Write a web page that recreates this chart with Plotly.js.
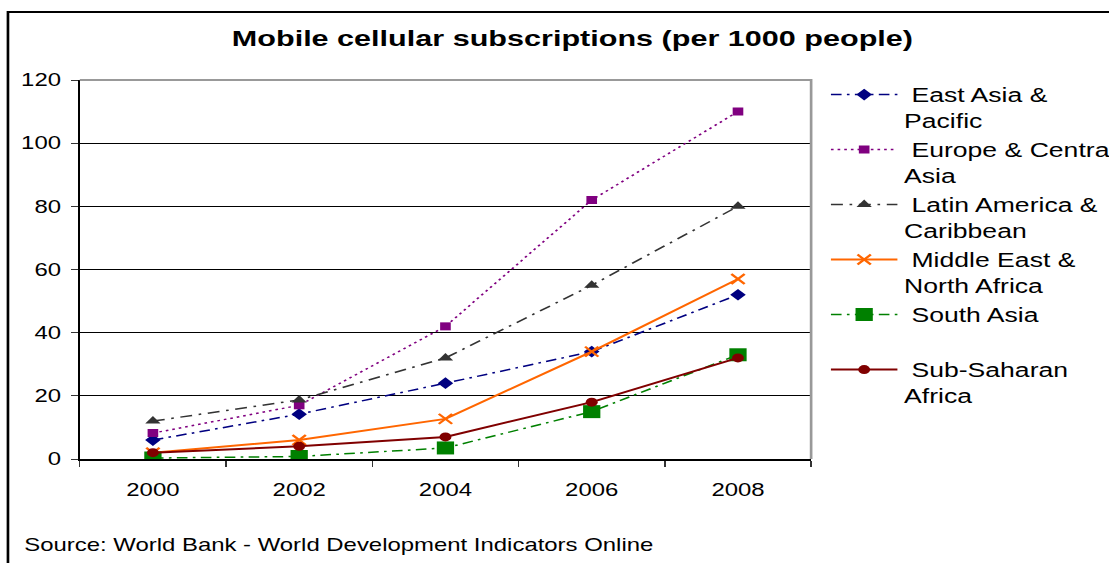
<!DOCTYPE html>
<html><head><meta charset="utf-8">
<script src="https://cdn.plot.ly/plotly-3.0.1.min.js"></script>
<style>
html,body{margin:0;padding:0;overflow:hidden;background:#fff;width:1109px;height:563px}
#wrap{width:1109px;height:563px;overflow:hidden;position:relative}
#chart{width:834px;height:563px;transform:scaleX(1.3297);transform-origin:0 0}
</style></head><body><div id="wrap"><div id="chart"></div></div>
<script>
const years = ['2000', '2002', '2004', '2006', '2008'];
const seriesNames = ['\u00a0East Asia &<br>Pacific', '\u00a0Europe & Central<br>Asia', '\u00a0Latin America &<br>Caribbean', '\u00a0Middle East &<br>North Africa', '\u00a0South Asia<br> ', '\u00a0Sub-Saharan<br>Africa'];
const eastAsiaPacific = [6, 14.2, 24, 34, 52];
const europeCentralAsia = [8.2, 17, 42, 82, 110];
const latinAmericaCaribbean = [12, 18.7, 32, 55, 80];
const middleEastNorthAfrica = [2, 6, 12.7, 34, 57];
const southAsia = [0.3, 0.8, 3.5, 15, 33];
const subSaharanAfrica = [2, 4, 7, 18, 32];
const yTicks = [0, 20, 40, 60, 80, 100, 120];
const sourceText = 'Source: World Bank - World Development Indicators Online';
const titleText = 'Mobile cellular subscriptions (per 1000 people)';

const F = 'Liberation Sans, Arial, sans-serif';
const mk = (name, y, color, dash, width, symbol, size, extra) => Object.assign({
  type: 'scatter', mode: 'lines+markers', x: years, y: y, name: name,
  line: {color: color, dash: dash, width: width},
  marker: {symbol: symbol, size: size, color: color, line: {width: 0}}
}, extra || {});

const data = [
  mk(seriesNames[0], eastAsiaPacific, '#000080', '8px,4px,2px,4px', 1.5, 'diamond', 9),
  mk(seriesNames[1], europeCentralAsia, '#800080', '2px,3px', 1.5, 'square', 8),
  mk(seriesNames[2], latinAmericaCaribbean, '#333333', '9px,5px,2px,5px', 1.5, 'triangle-up', 10),
  mk(seriesNames[3], middleEastNorthAfrica, '#FF6600', 'solid', 2, 'x-thin', 10, {marker: {symbol: 'x-thin', size: 10, color: '#FF6600', line: {color: '#FF6600', width: 2}}}),
  mk(seriesNames[4], southAsia, '#008000', '8px,4px,2px,4px', 1.5, 'square', 13),
  mk(seriesNames[5], subSaharanAfrica, '#800000', 'solid', 2, 'circle', 9)
];

const layout = {
  width: 834, height: 563,
  margin: {l: 60, r: 224, t: 80, b: 104, autoexpand: false},
  paper_bgcolor: '#ffffff', plot_bgcolor: '#ffffff',
  font: {family: F, color: '#000'},
  title: {text: '<b>' + titleText + '</b>', font: {family: F, size: 23, color: '#000'},
          xref: 'container', x: 0.5162, xanchor: 'center', yref: 'container', y: 0.9325, yanchor: 'middle'},
  xaxis: {type: 'category', tickson: 'boundaries', range: [-0.5, 4.5], showgrid: false, zeroline: false,
          showline: true, linecolor: '#000', linewidth: 1.5, ticks: 'outside', ticklen: 6, tickcolor: '#333',
          tickfont: {family: F, size: 18, color: '#000'}, ticklabelstandoff: 14, fixedrange: true},
  yaxis: {range: [0, 120], tickvals: yTicks, ticktext: yTicks.map(String), showgrid: true, gridcolor: '#000', gridwidth: 1,
          zeroline: false, showline: true, linecolor: '#000', linewidth: 1.5, ticks: 'outside', ticklen: 5, tickcolor: '#333',
          tickfont: {family: F, size: 18, color: '#000'}, ticklabelstandoff: 4, fixedrange: true},
  legend: {x: 1.018, xanchor: 'left', y: 1.013, yanchor: 'top', font: {family: F, size: 20, color: '#000'},
           itemwidth: 50, valign: 'top', bgcolor: 'rgba(0,0,0,0)', borderwidth: 0, tracegroupgap: 0, maxheight: 560},
  showlegend: true,
  shapes: [
    {type: 'path', xref: 'paper', yref: 'paper', path: 'M0,1 L1,1 L1,0', line: {color: '#999', width: 2}, layer: 'above'},
    {type: 'rect', xref: 'paper', yref: 'paper', x0: -0.0982, x1: 1.6, y0: -0.5, y1: 1.1794, line: {color: '#000', width: 2}, layer: 'above'}
  ],
  annotations: [
    {text: sourceText, xref: 'paper', yref: 'paper', x: -0.0791, xanchor: 'left', y: -0.227, yanchor: 'middle',
     showarrow: false, font: {family: F, size: 18, color: '#000'}}
  ]
};
Plotly.newPlot('chart', data, layout, {displayModeBar: false, staticPlot: true});
</script></body></html>
